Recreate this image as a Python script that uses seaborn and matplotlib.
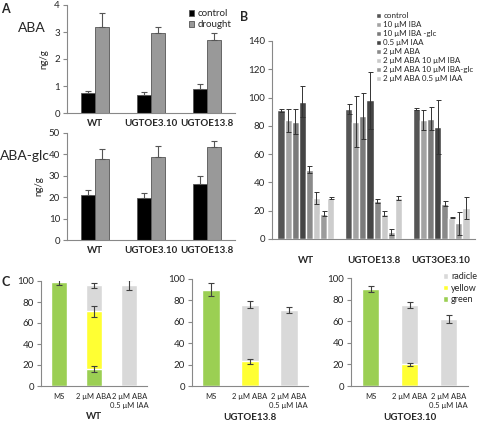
import pandas as pd
import matplotlib
matplotlib.use('Agg')
import matplotlib.pyplot as plt
import seaborn as sns
import numpy as np

# ---- panel A data ----
lines_a = ['WT', 'UGTOE3.10', 'UGTOE13.8']
aba_control = [0.75, 0.68, 0.88]
aba_control_err = [0.06, 0.10, 0.20]
aba_drought = [3.2, 2.97, 2.7]
aba_drought_err = [0.5, 0.2, 0.25]
glc_control = [21.0, 19.7, 26.3]
glc_control_err = [2.3, 2.2, 3.7]
glc_drought = [37.7, 39.0, 43.6]
glc_drought_err = [4.7, 4.8, 2.5]

# ---- panel B data ----
lines_b = ['WT', 'UGTOE13.8', 'UGT3OE3.10']
treat_b = ['control', '10 μM IBA', '10 μM IBA -glc', '0.5 μM IAA', '2 μM ABA',
           '2 μM ABA 10 μM IBA', '2 μM ABA 10 μM IBA-glc', '2 μM ABA 0.5 μM IAA']
b_wt = [91, 84, 83, 97, 49, 29, 18, 29]
b_138 = [92, 83, 87, 98, 27, 18, 5, 29]
b_310 = [92, 84, 85, 79, 25, 15, 11, 22]
b_wt_err = [1, 8, 9, 11, 2.5, 4, 2, 0.5]
b_138_err = [3.5, 18, 16, 20, 1.5, 2, 2, 1.5]
b_310_err = [0.5, 7, 8, 19, 2, 0.5, 8, 8]
colors_b = ['#555555', '#a3a3a3', '#7b7b7b', '#454545', '#8a8a8a',
            '#cacaca', '#9c9c9c', '#cdcdcd']

# ---- panel C data ----
cond_c = ['MS', '2 μM ABA', '2 μM ABA\n0.5 μM IAA']
c_names = ['WT', 'UGTOE13.8', 'UGTOE3.10']
c_green = [[99, 16, 0], [90, 0, 0], [90, 0, 0]]
c_yellow = [[0, 55, 0], [0, 23, 0], [0, 20, 0]]
c_radicle = [[0, 25, 96], [0, 53, 71], [0, 55, 62]]
c_green_err = [[3, 3, 0], [6, 0, 0], [3, 0, 0]]
c_yellow_err = [[0, 5, 0], [0, 2.5, 0], [0, 1.5, 0]]
c_radicle_err = [[0, 2.5, 5], [0, 3, 3], [0, 3, 4]]

sns.set_style('white')
plt.rcParams['font.family'] = ['Lato', 'DejaVu Sans']

W, H = 478, 424
fig = plt.figure(figsize=(W / 100, H / 100), dpi=100)


def rect(l, t, r, b):
    return [l / W, 1 - b / H, (r - l) / W, (b - t) / H]


def style_ax(ax, labels, **kw):
    n = len(labels)
    for s in ['top', 'right']:
        ax.spines[s].set_visible(False)
    for s in ['left', 'bottom']:
        ax.spines[s].set_color('#888888')
        ax.spines[s].set_linewidth(0.8)
    ax.set_xlim(-0.5, n - 0.5)
    ax.set_xticks(range(n), labels, **kw)
    ax.set_xticks(np.arange(-0.5, n), minor=True)
    ax.tick_params(axis='x', which='major', length=0, pad=4)
    ax.tick_params(axis='x', which='minor', length=3, width=0.8, color='#888888', direction='out')
    ax.tick_params(axis='y', length=3, width=0.8, color='#888888', direction='out',
                   left=True, labelsize=7, pad=2)
    ax.set_xlabel('')
    ax.set_ylabel('')


def panel_a(ax, ctrl, ctrl_err, dr, dr_err, ymax, step):
    df = pd.DataFrame({'line': lines_a * 2,
                       'cond': ['control'] * 3 + ['drought'] * 3,
                       'val': ctrl + dr})
    sns.barplot(data=df, x='line', y='val', hue='cond', order=lines_a,
                palette=['#000000', '#999999'], saturation=1, width=0.5,
                edgecolor='#555555', linewidth=0.6, legend=False, ax=ax)
    bars = list(ax.containers)
    for cont, errs in zip(bars, [ctrl_err, dr_err]):
        for bar, e in zip(cont, errs):
            x = bar.get_x() + bar.get_width() / 2
            ax.errorbar(x, bar.get_height(), yerr=[[0], [e]], color='#555555',
                        capsize=2.5, elinewidth=0.8, capthick=0.8)
    style_ax(ax, lines_a, fontsize=7, fontweight='bold')
    ax.set_ylim(0, ymax)
    ax.set_yticks(np.arange(0, ymax + 0.1, step))
    ax.set_ylabel('ng/g', fontsize=7, labelpad=4)
    return bars


ax1 = fig.add_axes(rect(67, 5, 235, 113))
bars1 = panel_a(ax1, aba_control, aba_control_err, aba_drought, aba_drought_err, 4, 1)
ax1.legend(bars1, ['control', 'drought'], loc='upper right',
           bbox_to_anchor=(1.03, 1.04), frameon=False, fontsize=7,
           handlelength=0.6, handleheight=0.6, handletextpad=0.3, labelspacing=0.2)

ax2 = fig.add_axes(rect(67, 133, 235, 240))
panel_a(ax2, glc_control, glc_control_err, glc_drought, glc_drought_err, 50, 10)

fig.text(18 / W, 1 - 28 / H, 'ABA', fontsize=10, ha='left', va='center')
fig.text(0 / W, 1 - 156 / H, 'ABA-glc', fontsize=10, ha='left', va='center')

# ---- panel B ----
ax3 = fig.add_axes(rect(272, 41, 475, 239))
df_b = pd.DataFrame({'line': np.repeat(lines_b, 8),
                     'treat': treat_b * 3,
                     'val': b_wt + b_138 + b_310})
sns.barplot(data=df_b, x='line', y='val', hue='treat', order=lines_b,
            hue_order=treat_b, palette=colors_b, saturation=1, width=0.84,
            legend=False, ax=ax3)
bars3 = list(ax3.containers)
err_b = np.array([b_wt_err, b_138_err, b_310_err])
for i, cont in enumerate(bars3):
    for j, bar in enumerate(cont):
        x = bar.get_x() + bar.get_width() / 2
        ax3.errorbar(x, bar.get_height(), yerr=err_b[j, i], color='#333333',
                     capsize=1.8, elinewidth=0.7, capthick=0.7)
style_ax(ax3, lines_b, fontsize=7, fontweight='bold')
ax3.set_ylim(0, 140)
ax3.set_yticks(np.arange(0, 141, 20))
ax3.tick_params(axis='x', which='major', pad=12)
ax3.legend(bars3, treat_b, loc='upper left',
           bbox_to_anchor=(376 / W, 1 - 12 / H), bbox_transform=fig.transFigure,
           frameon=False, fontsize=5.8, handlelength=0.6, handleheight=0.6,
           handletextpad=0.3, labelspacing=0.25, borderaxespad=0, borderpad=0)

# ---- panel C ----
c_rects = [(41, 281, 147, 386), (192, 279, 308, 386), (351, 278, 468, 386)]
for k in range(3):
    ax = fig.add_axes(rect(*c_rects[k]))
    g = np.array(c_green[k])
    yl = np.array(c_yellow[k])
    r = np.array(c_radicle[k])
    for vals, col in [(g + yl + r, '#d9d9d9'), (g + yl, '#ffff33'), (g, '#9bcf53')]:
        sns.barplot(x=cond_c, y=vals, color=col, saturation=1, width=0.46, ax=ax)
    bars = list(ax.containers)
    tops = [g + yl + r, g + yl, g]
    errs = [c_radicle_err[k], c_yellow_err[k], c_green_err[k]]
    for cont, top, err in zip(bars, tops, errs):
        for bar, t, e in zip(cont, top, err):
            if e > 0:
                x = bar.get_x() + bar.get_width() / 2
                ax.errorbar(x, t, yerr=e, color='#404040', capsize=2,
                            elinewidth=0.8, capthick=0.8)
    style_ax(ax, cond_c, fontsize=5.5, linespacing=1.3)
    ax.set_ylim(0, 100)
    ax.set_yticks(np.arange(0, 101, 20))
    ax.tick_params(axis='x', which='major', pad=5)
    ax.set_xlabel(c_names[k], fontsize=7, fontweight='bold')
    ax.xaxis.set_label_coords(0.5, -0.25)
    if k == 2:
        ax.legend(bars, ['radicle', 'yellow', 'green'], loc='upper right',
                  bbox_to_anchor=(477 / W, 1 - 272 / H), bbox_transform=fig.transFigure,
                  frameon=False, fontsize=6.5, handlelength=0.6, handleheight=0.6,
                  handletextpad=0.3, labelspacing=0.3, borderpad=0, borderaxespad=0)

fig.text(1 / W, 1 - 3 / H, 'A', fontsize=9, fontweight='bold', va='top')
fig.text(240 / W, 1 - 11 / H, 'B', fontsize=9, fontweight='bold', va='top')
fig.text(1 / W, 1 - 276 / H, 'C', fontsize=9, fontweight='bold', va='top')

fig.savefig('out.png', dpi=100)
